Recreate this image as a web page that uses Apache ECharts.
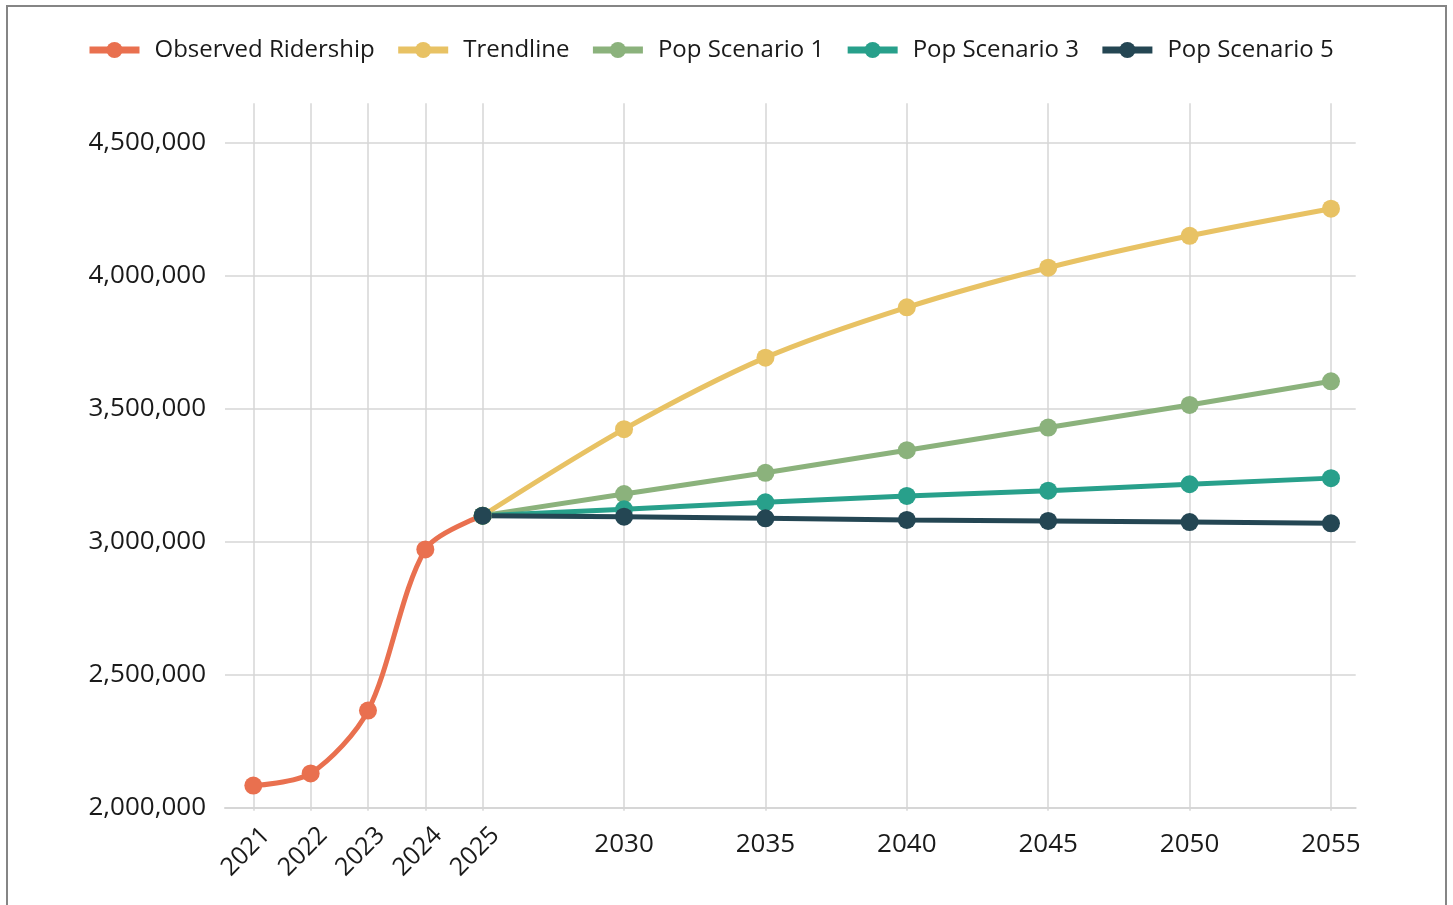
<!DOCTYPE html>
<html><head><meta charset="utf-8">
<script src="https://cdn.jsdelivr.net/npm/echarts@6/dist/echarts.min.js"></script>
<style>
html,body{margin:0;padding:0;background:#fff;}
#wrap{position:relative;width:1453px;height:905px;overflow:hidden;}
#frame{position:absolute;left:6px;top:5px;width:1441px;height:930px;border:2px solid #858585;box-sizing:border-box;}
#chart{position:absolute;left:0;top:0;width:1453px;height:905px;}
</style></head><body>
<div id="wrap"><div id="frame"></div><div id="chart"></div></div>
<script>
// ---- data ----
const tickYears = [2021, 2022, 2023, 2024, 2025, 2030, 2035, 2040, 2045, 2050, 2055];
const observedYears = [2021, 2022, 2023, 2024, 2025];
const observedRidership = [2083000, 2129000, 2365000, 2971000, 3098000];
const forecastYears = [2025, 2030, 2035, 2040, 2045, 2050, 2055];
const trendline = [3098000, 3423000, 3692000, 3881000, 4030000, 4150000, 4252000];
const popScenario1 = [3098000, 3179000, 3259000, 3344000, 3429000, 3514000, 3603000];
const popScenario3 = [3098000, 3122000, 3148000, 3172000, 3192000, 3216000, 3239000];
const popScenario5 = [3098000, 3094000, 3088000, 3082000, 3078000, 3074000, 3069000];
const seriesNames = ['Observed Ridership', 'Trendline', 'Pop Scenario 1', 'Pop Scenario 3', 'Pop Scenario 5'];
const colors = ['#E9704F', '#E8C264', '#8BB27C', '#28A08B', '#244653'];

// axis position: one step per observed year, then a wider step per 5-year forecast interval
function pos(y) { return y <= 2025 ? (y - 2021) : 4 + (y - 2025) / 5 * 2.466; }
const tickPos = tickYears.map(pos);
const rotatedPos = tickYears.filter(y => y <= 2025).map(pos);
const flatPos = tickYears.filter(y => y > 2025).map(pos);
function yearLabel(v) {
  const i = tickPos.findIndex(p => Math.abs(p - v) < 1e-6);
  return i >= 0 ? String(tickYears[i]) : '';
}
function pairs(years, vals) { return years.map((y, i) => [pos(y), vals[i]]); }

const FONT = '"Open Sans", Lato, sans-serif';
const GRID = '#d6d6d6';
const XMIN = -0.494, XMAX = 19.227;

const chart = echarts.init(document.getElementById('chart'), null, {renderer: 'canvas'});
function lineSeries(name, data, color, smooth) {
  return {
    name, type: 'line', data, smooth, xAxisIndex: 0, yAxisIndex: 0,
    symbol: 'circle', symbolSize: 18, showSymbol: true,
    lineStyle: {color, width: 5}, itemStyle: {color},
    emphasis: {disabled: true}, animation: false, clip: false
  };
}
chart.setOption({
  animation: false,
  color: colors,
  textStyle: {fontFamily: FONT},
  legend: {
    top: 38, left: 86, padding: 0, itemWidth: 50, itemHeight: 20, itemGap: 20,
    data: seriesNames,
    lineStyle: {width: 7},
    textStyle: {fontFamily: FONT, fontSize: 24, color: '#1a1a1a', padding: [0, 0, 0, 10]}
  },
  grid: {left: 225, right: 97.3, top: 142.7, bottom: 97.3, containLabel: false, outerBoundsMode: 'none'},
  xAxis: [
    {
      type: 'value', position: 'bottom', min: XMIN, max: XMAX,
      axisLine: {show: true, lineStyle: {color: GRID, width: 2}},
      axisTick: {show: true, customValues: tickPos, length: 3, lineStyle: {color: GRID, width: 1.5}},
      splitLine: {show: true, lineStyle: {color: GRID, width: 1.5}},
      axisLabel: {customValues: rotatedPos, rotate: 45, margin: 11, verticalAlign: 'top', lineHeight: 36,
        formatter: yearLabel, fontFamily: FONT, fontSize: 25, color: '#1a1a1a'}
    },
    {
      type: 'value', position: 'bottom', min: XMIN, max: XMAX,
      axisLine: {show: false}, axisTick: {show: false}, splitLine: {show: false},
      axisLabel: {customValues: flatPos, rotate: 0, margin: 24, formatter: yearLabel,
        fontFamily: FONT, fontSize: 26, color: '#1a1a1a'}
    },
    {
      type: 'value', position: 'top', min: XMIN, max: XMAX,
      axisLine: {show: false}, splitLine: {show: false}, axisLabel: {show: false},
      axisTick: {show: true, customValues: tickPos, length: 39.4, lineStyle: {color: GRID, width: 1.5}}
    }
  ],
  yAxis: {
    type: 'value', min: 2000000, max: 4500000, interval: 500000,
    axisLine: {show: false}, axisTick: {show: false},
    splitLine: {show: true, lineStyle: {color: GRID, width: 1.5}},
    axisLabel: {margin: 19, fontFamily: FONT, fontSize: 26, color: '#1a1a1a',
      formatter: v => v.toLocaleString('en-US')}
  },
  series: [
    lineSeries(seriesNames[0], pairs(observedYears, observedRidership), colors[0], 0.3),
    lineSeries(seriesNames[1], pairs(forecastYears, trendline), colors[1], 0.3),
    lineSeries(seriesNames[2], pairs(forecastYears, popScenario1), colors[2], false),
    lineSeries(seriesNames[3], pairs(forecastYears, popScenario3), colors[3], false),
    lineSeries(seriesNames[4], pairs(forecastYears, popScenario5), colors[4], false)
  ]
});
</script>
</body></html>
